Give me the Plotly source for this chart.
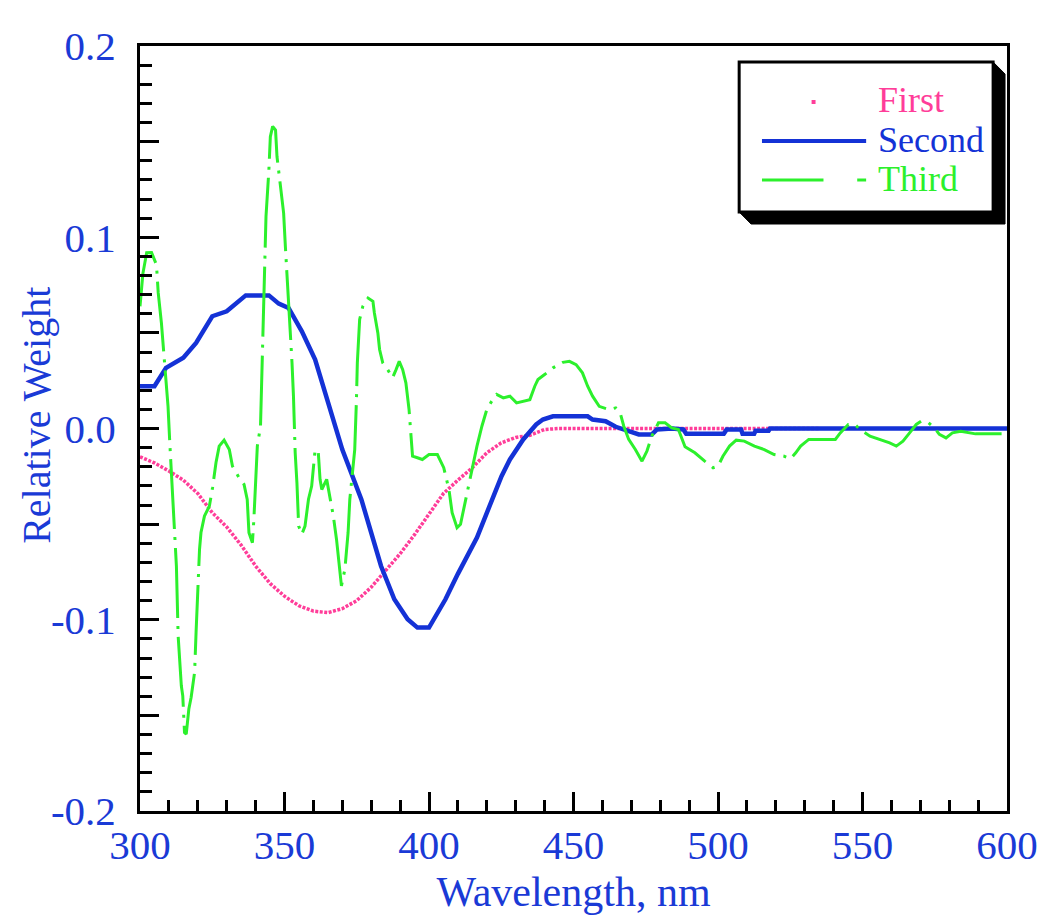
import plotly.graph_objects as go

# ---------------- data ----------------
first_wl = [300, 305, 310, 315, 320, 325, 330, 335, 340, 345, 350, 355, 360, 365, 370,
            375, 380, 385, 390, 395, 400, 405, 410, 415, 420, 425, 430, 435, 440, 445,
            460, 480, 500, 520, 535]
first_val = [-0.0148, -0.0180, -0.0222, -0.0270, -0.0340, -0.0440, -0.0515, -0.0610, -0.0719,
             -0.0810, -0.0877, -0.0927, -0.0955, -0.0963, -0.0942, -0.0900, -0.0830, -0.0740,
             -0.0655, -0.0555, -0.0450, -0.0340, -0.0270, -0.0205, -0.0127, -0.0075, -0.0047,
             -0.0035, -0.0005, 0.0, 0.0, 0.0, 0.0, 0.0, 0.0]

second_wl = [300, 305, 309, 312.6, 315, 319.4, 325, 330, 334.3, 336.6, 344.6, 348, 351.4, 356,
             360.6, 365, 370, 376.6, 383.4, 388, 392.6, 396, 400, 405.7, 410, 416.6, 421.1,
             425.1, 428, 432.6, 437.1, 439.4, 442.9, 454.9, 456.6, 461.1, 464.6, 468, 472.6,
             477.1, 478.9, 484, 488, 489, 502, 503, 508, 508.5, 512.5, 513, 517.5, 518, 560, 600]
second_val = [0.0221, 0.0221, 0.0317, 0.0351, 0.0370, 0.0447, 0.0587, 0.0613, 0.0665, 0.0696,
              0.0696, 0.0653, 0.0630, 0.0508, 0.0360, 0.0134, -0.0110, -0.0371, -0.0719, -0.0893,
              -0.0997, -0.1041, -0.1041, -0.0893, -0.0760, -0.0570, -0.0406, -0.0249, -0.0162,
              -0.0057, 0.0021, 0.0047, 0.0064, 0.0064, 0.0047, 0.0038, 0.0009, -0.0009, -0.0031,
              -0.0031, -0.0005, 0.0, -0.0005, -0.0028, -0.0028, -0.0005, -0.0005, -0.0028,
              -0.0028, -0.0012, -0.0012, 0.0, 0.0, 0.0]

third_wl = [300, 300.5, 301, 302.3, 304, 305.7, 306.3, 307.4, 308.6, 309.7, 310.3, 311.4, 312.6,
            313.2, 313.7, 314.3, 314.8, 315.4, 316, 316.9, 317.7, 318.9, 319.4, 320, 320.6,
            321.1, 322.3, 324, 325.1, 326.3, 327.4, 329.1, 330.9, 332, 334.3, 336, 337.1, 337.7,
            338.9, 339.4, 340.6, 341.7, 342.3, 342.9, 343.4, 343.6, 344.6, 345.1, 345.9, 346.9,
            347.4, 348.6, 349.1, 349.7, 350.3, 351.2, 352, 352.6, 353.1, 353.7, 354.3, 354.9,
            356, 357.1, 358.3, 359.4, 360.6, 361.7, 362.3, 362.9, 364.6, 365.7, 366.9, 368,
            369.1, 369.7, 370.9, 372, 372.6, 374.3, 374.9, 375.2, 376, 377.1, 378.9, 380.6,
            381.1, 382.3, 382.9, 384, 385.7, 387.4, 388.6, 389.7, 390.9, 392, 393.1, 393.7,
            394.3, 396, 397.7, 400, 402.9, 405.1, 406.9, 408, 409.7, 410.9, 412, 413.7, 415.4,
            416.6, 418.3, 420, 421.7, 423.4, 425.7, 428, 430.3, 434.9, 436.6, 437.7, 440,
            442.9, 446.3, 448.6, 450.9, 453.1, 454.9, 456.6, 458.9, 462.3, 464.6, 466.3, 467.4,
            469.1, 471.4, 473.7, 475.4, 477.1, 479.4, 481.7, 484, 486.3, 488.6, 492, 495.4,
            498.3, 500, 501.7, 504, 506.3, 509.1, 512.6, 516, 519.4, 522.9, 525.1, 526.9, 528.6,
            531.4, 540.6, 542.3, 544, 545.1, 547.4, 549.1, 552.6, 556, 559.4, 561.7, 564, 566.3,
            568.6, 570.3, 572.6, 574.9, 576.6, 578.9, 581.1, 584, 586.9, 589.1, 600]
third_val = [0.0639, 0.0750, 0.0810, 0.0919, 0.0920, 0.0856, 0.0710, 0.0553, 0.0345, 0.0116,
             -0.0073, -0.0390, -0.0720, -0.1085, -0.1220, -0.1345, -0.1398, -0.1590, -0.1598,
             -0.1467, -0.1405, -0.1274, -0.1066, -0.0823, -0.0632, -0.0544, -0.0458, -0.0406,
             -0.0310, -0.0178, -0.0092, -0.0061, -0.0110, -0.0197, -0.0258, -0.0292, -0.0371,
             -0.0545, -0.0597, -0.0475, -0.0092, 0.0012, 0.0343, 0.0587, 0.0865, 0.1109, 0.1352,
             0.1526, 0.1580, 0.1560, 0.1422, 0.1280, 0.1213, 0.1126, 0.0952, 0.0726, 0.0517,
             0.0343, 0.0169, -0.0127, -0.0284, -0.0510, -0.0553, -0.0510, -0.0370, -0.0301,
             -0.0110, -0.0127, -0.0266, -0.0319, -0.0266, -0.0353, -0.0458, -0.0580, -0.0720,
             -0.0823, -0.0736, -0.0545, -0.0371, -0.0110, 0.0151, 0.0343, 0.0570, 0.0639, 0.0682,
             0.0665, 0.0604, 0.0500, 0.0413, 0.0343, 0.0308, 0.0265, 0.0308, 0.0351, 0.0308,
             0.0239, 0.0099, -0.0023, -0.0145, -0.0153, -0.0162, -0.0136, -0.0136, -0.0205,
             -0.0319, -0.0440, -0.0519, -0.0501, -0.0423, -0.0284, -0.0179, -0.0092, 0.0012,
             0.0099, 0.0143, 0.0178, 0.0160, 0.0169, 0.0134, 0.0151, 0.0221, 0.0256, 0.0282,
             0.0317, 0.0346, 0.0351, 0.0334, 0.0291, 0.0221, 0.0169, 0.0116, 0.0099, 0.0108,
             0.0073, 0.0012, -0.0057, -0.0110, -0.0171, -0.0118, -0.0040, 0.0030, 0.0030, 0.0003,
             -0.0005, -0.0095, -0.0127, -0.0171, -0.0205, -0.0197, -0.0145, -0.0092, -0.0061,
             -0.0066, -0.0092, -0.0110, -0.0136, -0.0145, -0.0158, -0.0127, -0.0092, -0.0057,
             -0.0057, -0.0023, 0.0003, 0.0021, 0.0021, -0.0005, -0.0040, -0.0057, -0.0075,
             -0.0092, -0.0066, -0.0023, 0.0021, 0.0038, 0.0033, 0.0003, -0.0031, -0.0049,
             -0.0023, -0.0014, -0.0023, -0.0028, -0.0028]

series_names = ["First", "Second", "Third"]
x_ticks = [300, 350, 400, 450, 500, 550, 600]
y_tickvals = [-0.2, -0.15, -0.1, -0.05, 0.0, 0.05, 0.1, 0.15, 0.2]
y_ticktext = ["-0.2", "", "-0.1", "", "0.0", "", "0.1", "", "0.2"]

# ---------------- styling ----------------
PINK = "#ff3d99"
BLUE = "#1432d6"
GREEN = "#2cf02c"
TXT = "#1a3ad6"
FONT = "Liberation Serif"

W, H = 1050, 923
ML, MR, MT, MB = 140, 36, 46, 112
PW, PH = W - ML - MR, H - MT - MB


def px(xp):
    return (xp - ML) / PW


def py(yp):
    return (H - MB - yp) / PH


fig = go.Figure()
fig.add_trace(go.Scatter(x=first_wl, y=first_val, mode="lines", name=series_names[0],
                         line=dict(color=PINK, width=3.5, dash="3px,1.5px"), showlegend=False))
fig.add_trace(go.Scatter(x=second_wl, y=second_val, mode="lines", name=series_names[1],
                         line=dict(color=BLUE, width=4.5), showlegend=False))
fig.add_trace(go.Scatter(x=third_wl, y=third_val, mode="lines", name=series_names[2],
                         line=dict(color=GREEN, width=3, dash="70px,8px,3px,8px"),
                         showlegend=False))

# ---------------- legend (drawn manually to mimic the boxed, shadowed legend) ----------------
bx0, by0, bx1, by1 = 744, 62, 1000, 212
sh = 12
shapes = []
shadow_path = (f"M {px(bx1)},{py(by0)} L {px(bx1+sh)},{py(by0+sh)} L {px(bx1+sh)},{py(by1+sh)} "
               f"L {px(bx0+sh)},{py(by1+sh)} L {px(bx0)},{py(by1)} L {px(bx1)},{py(by1)} Z")
shapes.append(dict(type="path", xref="paper", yref="paper", path=shadow_path,
                   fillcolor="black", line=dict(color="black", width=1), layer="above"))
shapes.append(dict(type="rect", xref="paper", yref="paper", x0=px(bx0), x1=px(bx1),
                   y0=py(by1), y1=py(by0), fillcolor="white",
                   line=dict(color="black", width=3), layer="above"))
# symbols
shapes.append(dict(type="rect", xref="paper", yref="paper", x0=px(817), x1=px(821),
                   y0=py(104), y1=py(100), fillcolor=PINK, line=dict(width=0), layer="above"))
shapes.append(dict(type="line", xref="paper", yref="paper", x0=px(767), x1=px(872),
                   y0=py(141), y1=py(141), line=dict(color=BLUE, width=4), layer="above"))
shapes.append(dict(type="line", xref="paper", yref="paper", x0=px(767), x1=px(829),
                   y0=py(180), y1=py(180), line=dict(color=GREEN, width=3), layer="above"))
shapes.append(dict(type="line", xref="paper", yref="paper", x0=px(863), x1=px(872),
                   y0=py(180), y1=py(180), line=dict(color=GREEN, width=3), layer="above"))

annotations = []
for name, col, yy in zip(series_names, [PINK, BLUE, GREEN], [100, 140, 179]):
    annotations.append(dict(text=name, xref="paper", yref="paper", x=px(882), y=py(yy),
                            xanchor="left", yanchor="middle", showarrow=False,
                            font=dict(family=FONT, size=36, color=col)))
# y-axis title placed precisely
annotations.append(dict(text="Relative Weight", xref="paper", yref="paper", x=px(36),
                        y=py(415), xanchor="center", yanchor="middle", textangle=-90,
                        showarrow=False, font=dict(family=FONT, size=40, color=TXT)))

axis_common = dict(showline=True, linewidth=3, linecolor="black", mirror=True,
                   showgrid=False, zeroline=False, ticks="inside", ticklen=19,
                   tickwidth=2.5, tickcolor="black",
                   tickfont=dict(family=FONT, size=41, color=TXT))

fig.update_layout(
    width=W, height=H,
    margin=dict(l=ML, r=MR, t=MT, b=MB),
    paper_bgcolor="white", plot_bgcolor="white",
    xaxis=dict(range=[300, 600], tickmode="array", tickvals=x_ticks,
               ticktext=[str(v) for v in x_ticks], ticklabelstandoff=-4,
               minor=dict(dtick=10, tick0=300, ticks="inside", ticklen=11, tickwidth=2.5,
                          tickcolor="black", showgrid=False),
               title=dict(text="Wavelength, nm", standoff=10,
                          font=dict(family=FONT, size=42, color=TXT)),
               **axis_common),
    yaxis=dict(range=[-0.2, 0.2], tickmode="array", tickvals=y_tickvals, ticktext=y_ticktext,
               ticklabelstandoff=13,
               minor=dict(dtick=0.01, tick0=0, ticks="inside", ticklen=12, tickwidth=2.5,
                          tickcolor="black", showgrid=False),
               **axis_common),
    shapes=shapes,
    annotations=annotations,
    showlegend=False,
)

fig.write_html("out.html", config={"displayModeBar": False},
               post_script="document.body.style.margin='0px';")
